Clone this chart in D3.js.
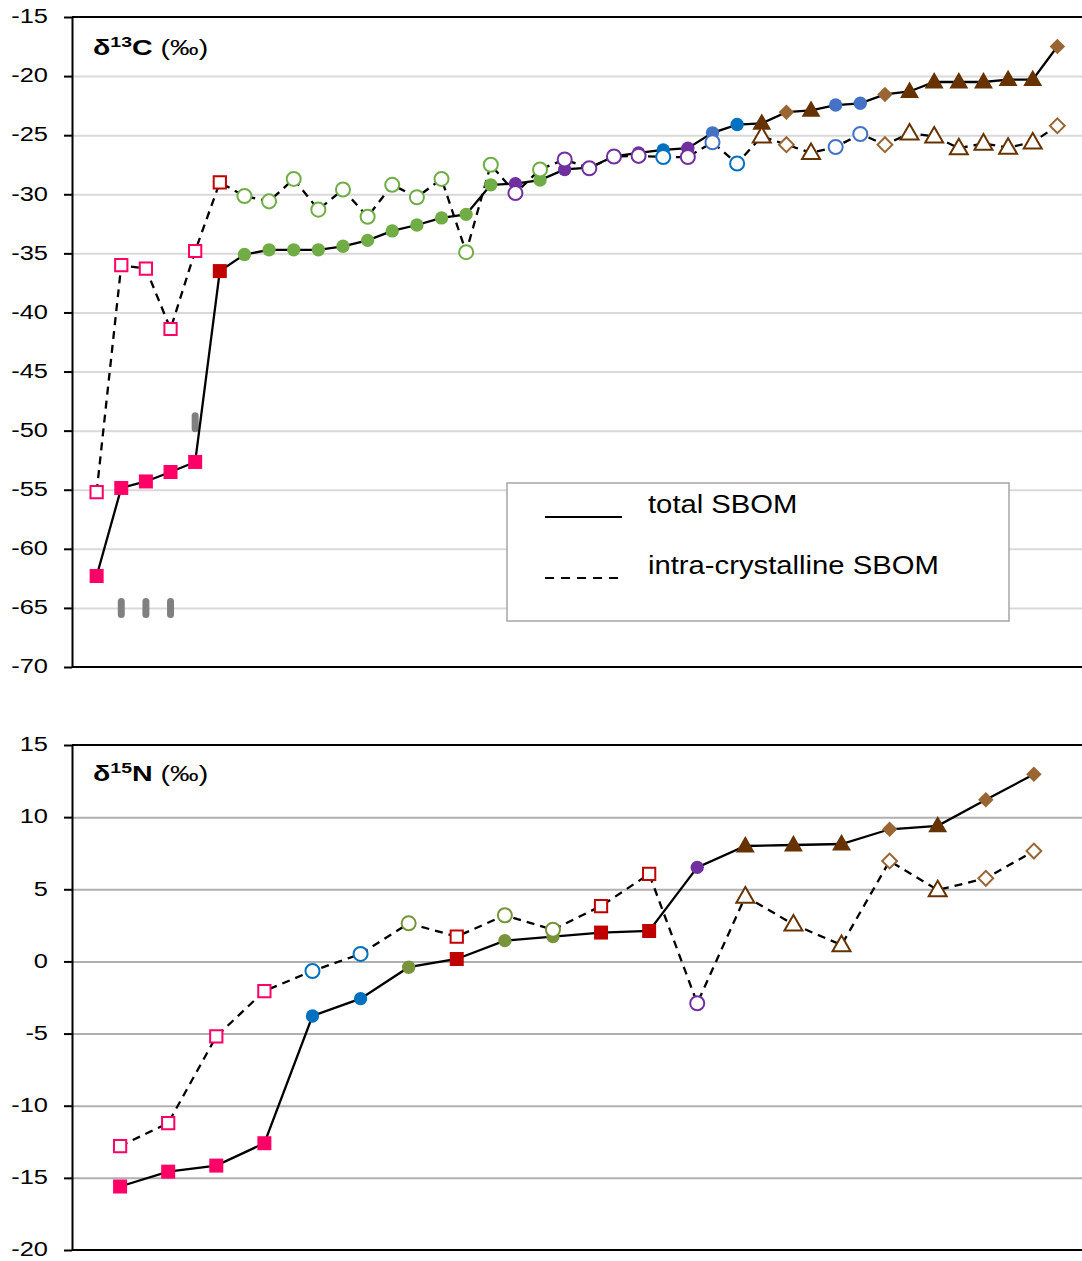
<!DOCTYPE html>
<html>
<head>
<meta charset="utf-8">
<script src="https://cdn.jsdelivr.net/npm/d3@7"></script>
<style>
  body { margin: 0; background: #fff; }
  svg { display: block; font-family: "Liberation Sans", Arial, sans-serif; }
</style>
</head>
<body>
<div id="main"></div>
<script>
// delta 13C, 40 samples in order
const c13Total = [-62.3, -54.85, -54.3, -53.5, -52.65, -36.5, -35.1, -34.7, -34.7, -34.7,
  -34.4, -33.9, -33.1, -32.6, -32.0, -31.7, -29.2, -29.1, -28.8, -27.9,
  -27.75, -26.8, -26.5, -26.25, -26.1, -24.8, -24.1, -24.0, -23.05, -22.9,
  -22.45, -22.3, -21.55, -21.3, -20.5, -20.5, -20.5, -20.3, -20.3, -17.5];
const c13Intra = [-55.2, -36.0, -36.3, -41.4, -34.8, -29.0, -30.15, -30.6, -28.7, -31.3,
  -29.6, -31.9, -29.2, -30.25, -28.7, -34.9, -27.5, -29.9, -27.9, -27.05,
  -27.8, -26.8, -26.75, -26.85, -26.85, -25.6, -27.4, -25.1, -25.8, -26.5,
  -26.0, -24.9, -25.8, -24.85, -25.1, -26.1, -25.7, -26.05, -25.6, -24.2];
const c13Group = ['pink', 'pink', 'pink', 'pink', 'pink', 'red',
  'green', 'green', 'green', 'green', 'green', 'green', 'green', 'green', 'green', 'green',
  'green', 'purple', 'green', 'purple', 'purple', 'purple', 'purple', 'blue', 'purple',
  'lblue', 'blue', 'tri', 'dia', 'tri', 'lblue', 'lblue', 'dia',
  'tri', 'tri', 'tri', 'tri', 'tri', 'tri', 'dia'];
const c13Ticks = [-70, -65, -60, -55, -50, -45, -40, -35, -30, -25, -20, -15];
// grey bars drawn on the plot (sample index, value)
const c13Marks = [[2, -65], [3, -65], [4, -65], [5, -49.3]];

// delta 15N, 20 samples in order
const n15Total = [-15.6, -14.57, -14.15, -12.6, -3.78, -2.58, -0.4, 0.17, 1.44, 1.72,
  2.0, 2.11, 6.52, 8.0, 8.07, 8.14, 9.16, 9.4, 11.2, 12.97];
const n15Intra = [-12.8, -11.2, -5.2, -2.05, -0.66, 0.52, 2.64, 1.72, 3.2, 2.2,
  3.84, 6.06, -2.9, 4.5, 2.57, 1.14, 6.96, 4.95, 5.76, 7.65];
const n15Group = ['pink', 'pink', 'pink', 'pink', 'blue', 'blue', 'olive', 'red', 'olive', 'olive',
  'red', 'red', 'purple', 'tri', 'tri', 'tri', 'dia', 'tri', 'dia', 'dia'];
const n15Ticks = [-20, -15, -10, -5, 0, 5, 10, 15];

const legendLabels = ['total SBOM', 'intra-crystalline SBOM'];

// marker look for each group
const groupStyle = {
  pink:   { color: '#FF0066', shape: 'square' },
  red:    { color: '#C00000', shape: 'square' },
  green:  { color: '#70AD47', shape: 'circle' },
  olive:  { color: '#77933C', shape: 'circle' },
  purple: { color: '#7030A0', shape: 'circle' },
  blue:   { color: '#0070C0', shape: 'circle' },
  lblue:  { color: '#4472C4', shape: 'circle' },
  tri:    { color: '#663300', shape: 'triangle' },
  dia:    { color: '#996633', shape: 'diamond' }
};

const W = 1082, H = 1261;
const svg = d3.select('#main').append('svg').attr('width', W).attr('height', H);

function symbolPath(shape, open) {
  let type, size;
  if (shape === 'square') { type = d3.symbolSquare; size = open ? 150 : 196; }
  else if (shape === 'circle') { type = d3.symbolCircle; size = open ? 155 : 140; }
  else if (shape === 'triangle') { type = d3.symbolTriangle; size = open ? 140 : 155; }
  else { type = d3.symbolSquare; size = open ? 110 : 120; }
  return d3.symbol().type(type).size(size)();
}

function markTransform(shape, px, py) {
  return 'translate(' + px + ',' + (py + (shape === 'triangle' ? 1 : 0)) + ')' +
    (shape === 'diamond' ? ' rotate(45)' : '');
}

function drawPanel(opt) {
  const g = svg.append('g');
  const x = d3.scaleLinear().domain([0, opt.total.length + 1]).range([72, 1082]);
  const y = d3.scaleLinear().domain(opt.yDomain).range([opt.bottom, opt.top]);

  // grid lines
  g.append('g')
    .attr('transform', 'translate(72,0)')
    .call(d3.axisLeft(y).tickValues(opt.ticks.slice(1, -1)).tickSize(-(1082 - 72)).tickFormat(''))
    .call(s => s.select('.domain').remove())
    .selectAll('line').attr('stroke', opt.gridColor).attr('stroke-width', 2);

  // top and bottom frame lines
  [opt.yDomain[0], opt.yDomain[1]].forEach(v => {
    g.append('line').attr('x1', 72).attr('x2', 1082)
      .attr('y1', y(v)).attr('y2', y(v))
      .attr('stroke', '#000').attr('stroke-width', 2);
  });

  // y axis
  const ax = g.append('g')
    .attr('transform', 'translate(72,0)')
    .call(d3.axisLeft(y).tickValues(opt.ticks).tickSize(8).tickSizeOuter(0)
      .tickFormat(d => String(d)));
  ax.select('.domain').attr('stroke', '#000').attr('stroke-width', 2);
  ax.selectAll('.tick line').attr('stroke', '#000').attr('stroke-width', 2);
  ax.selectAll('.tick text').attr('font-size', 20).attr('fill', '#000')
    .attr('font-family', '"Liberation Sans", Arial, sans-serif')
    .attr('x', 0).attr('dy', '0.34em')
    .attr('transform', 'translate(-24,-1) scale(1.27,1)');

  // extra grey marks
  (opt.marks || []).forEach(m => {
    g.append('rect').attr('x', x(m[0]) - 3.5).attr('y', y(m[1]) - 10)
      .attr('width', 7).attr('height', 20).attr('rx', 3.5)
      .attr('fill', '#808080');
  });

  const line = d3.line().x((d, i) => x(i + 1)).y(d => y(d));
  g.append('path').datum(opt.total).attr('d', line)
    .attr('fill', 'none').attr('stroke', '#000').attr('stroke-width', 2.3);
  g.append('path').datum(opt.intra).attr('d', line)
    .attr('fill', 'none').attr('stroke', '#000').attr('stroke-width', 2.3)
    .attr('stroke-dasharray', '8,6');

  // filled markers (total)
  g.selectAll('path.filled').data(opt.total).enter().append('path')
    .attr('class', 'filled')
    .attr('d', (d, i) => symbolPath(groupStyle[opt.group[i]].shape, false))
    .attr('transform', (d, i) => markTransform(groupStyle[opt.group[i]].shape, x(i + 1), y(d)))
    .attr('fill', (d, i) => groupStyle[opt.group[i]].color);

  // open markers (intra-crystalline)
  g.selectAll('path.open').data(opt.intra).enter().append('path')
    .attr('class', 'open')
    .attr('d', (d, i) => symbolPath(groupStyle[opt.group[i]].shape, true))
    .attr('transform', (d, i) => markTransform(groupStyle[opt.group[i]].shape, x(i + 1), y(d)))
    .attr('fill', '#fff')
    .attr('stroke', (d, i) => groupStyle[opt.group[i]].color)
    .attr('stroke-width', 2);

  // title inside the plot
  const t = g.append('text')
    .attr('transform', 'translate(93,' + opt.titleY + ') scale(1.3,1)')
    .attr('font-size', 22).attr('fill', '#000');
  t.append('tspan').attr('font-weight', 'bold').text('δ');
  t.append('tspan').attr('font-weight', 'bold').attr('font-size', 15).attr('dy', -8).text(opt.iso);
  t.append('tspan').attr('font-weight', 'bold').attr('dy', 8).text(opt.elem);
  t.append('tspan').text(' (‰)');
}

drawPanel({
  total: c13Total, intra: c13Intra, group: c13Group, ticks: c13Ticks,
  yDomain: [-70, -15], top: 17, bottom: 667, gridColor: '#d9d9d9',
  marks: c13Marks, iso: '13', elem: 'C', titleY: 55
});

drawPanel({
  total: n15Total, intra: n15Intra, group: n15Group, ticks: n15Ticks,
  yDomain: [-20, 15], top: 745, bottom: 1250, gridColor: '#b0b0b0',
  iso: '15', elem: 'N', titleY: 781
});

// legend
const lg = svg.append('g');
lg.append('rect').attr('x', 507).attr('y', 483).attr('width', 502).attr('height', 138)
  .attr('fill', '#fff').attr('stroke', '#a6a6a6').attr('stroke-width', 1.5);
legendLabels.forEach((lab, i) => {
  const yy = 517 + i * 61;
  lg.append('line').attr('x1', 545).attr('x2', 622).attr('y1', yy).attr('y2', yy)
    .attr('stroke', '#000').attr('stroke-width', 2)
    .attr('stroke-dasharray', i === 1 ? '9,7' : null);
  lg.append('text')
    .attr('transform', 'translate(648,' + (yy - 4) + ') scale(1.17,1)')
    .attr('font-size', 25).attr('fill', '#000').text(lab);
});
</script>
</body>
</html>
